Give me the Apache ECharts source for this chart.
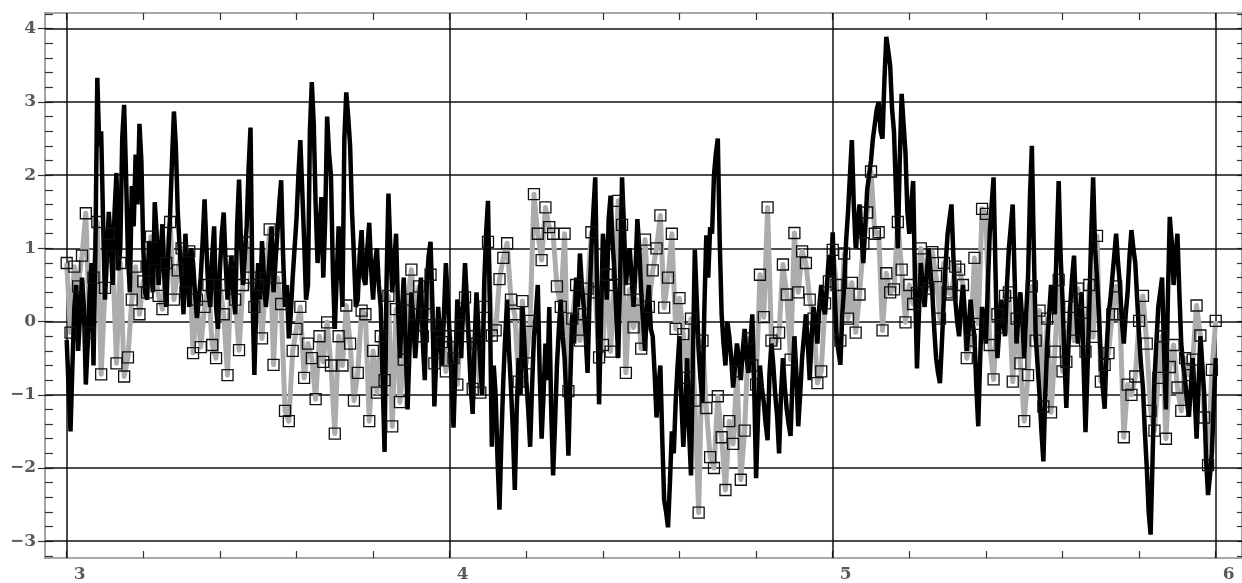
<!DOCTYPE html>
<html><head><meta charset="utf-8">
<script src="https://cdn.jsdelivr.net/npm/echarts@6/dist/echarts.min.js"></script>
<style>html,body{margin:0;padding:0;background:#fff}#c{width:1242px;height:583px}</style>
</head><body><div id="c"></div>
<script>
// ---- data ----
const X_START = 3.0;
const BLACK_STEP = 0.005;
const GRAY_STEP = 0.01;

const blackValues = [
 -0.25,-0.9,-1.5,-0.6,0.2,0.5,-0.4,0.1,0.6,0.2,-0.86,-0.3,0.4,0.8,-0.6,1.0,3.33,2.4,2.6,1.4,
 0.3,0.9,1.5,1.1,0.5,1.5,2.03,0.7,1.0,2.5,2.96,2.0,0.9,0.4,1.85,1.3,2.28,1.6,2.7,2.2,
 1.0,0.4,0.3,1.1,0.8,0.4,1.63,1.2,0.5,0.9,1.33,0.6,0.2,0.9,1.45,2.2,2.87,2.4,1.5,1.0,
 0.6,0.1,1.2,0.7,0.2,1.0,0.8,0.4,0.05,0.3,0.6,1.1,1.67,1.0,0.4,0.2,0.9,1.3,0.2,-0.1,
 0.7,1.2,1.49,0.8,0.3,0.6,0.9,0.4,0.1,1.3,1.94,1.1,0.5,0.9,1.3,2.1,2.65,0.4,-0.73,0.2,
 0.8,0.3,1.1,0.6,0.2,0.5,0.9,1.3,0.4,0.8,1.2,1.6,1.93,0.9,0.2,0.5,-0.23,0.1,0.6,1.0,
 1.4,2.0,2.48,1.8,1.1,0.3,0.5,2.6,3.27,2.7,1.6,0.8,1.2,1.7,0.6,1.4,2.8,2.3,2.0,0.7,
 -0.1,0.6,1.3,0.8,0.2,2.5,3.13,2.8,2.4,1.5,0.9,0.2,0.3,0.9,1.25,0.6,0.5,1.0,1.35,0.7,
 0.3,0.8,1.0,0.5,0.2,-0.8,-1.78,0.5,1.75,1.0,0.4,0.8,1.2,0.2,-0.5,0.1,0.6,-0.3,-1.2,-0.4,
 0.4,0.0,-0.5,-0.1,0.3,0.6,-0.3,-0.8,0.5,0.9,1.09,0.2,-1.16,-0.5,0.2,-0.2,-0.6,0.1,0.8,0.3,
 -0.2,-0.8,-1.45,-0.6,0.3,0.1,-0.5,0.2,0.8,0.3,-0.3,-0.9,-1.26,-0.3,0.4,-0.1,-0.6,-1.0,0.5,1.2,
 1.65,0.2,-1.71,-0.6,-1.0,-1.9,-2.57,-1.6,-0.8,-0.2,0.3,-0.4,-0.9,-1.5,-2.3,-1.2,-0.5,-1.0,0.2,-0.3,
 -0.8,-1.2,-1.71,-0.9,-0.2,0.1,0.5,-0.7,-1.6,-1.0,-0.3,-0.8,0.2,-1.2,-2.1,-1.4,-0.6,-0.1,0.3,-0.2,
 -0.5,-1.1,-1.83,-0.8,0.1,-0.3,0.6,0.2,0.93,0.5,0.2,-0.2,-0.7,0.3,1.0,1.5,1.97,0.4,-1.13,0.0,
 1.2,0.9,0.3,1.4,1.72,1.1,0.7,0.1,-0.5,0.6,1.97,1.3,0.5,0.8,1.0,0.6,0.2,0.7,1.4,1.0,
 0.4,0.0,-0.4,0.2,0.5,-0.1,-0.2,-0.7,-1.31,-0.9,-0.6,-1.6,-2.44,-2.6,-2.81,-2.2,-1.5,-1.8,-1.1,-0.6,
 -0.2,-1.1,-1.71,-1.2,-0.5,-1.5,-2.1,-0.5,0.98,0.3,-0.4,-0.8,-1.1,0.2,1.18,0.6,1.29,1.2,2.0,2.3,
 2.5,1.1,0.1,-0.3,-0.6,0.0,-0.2,-0.5,-0.9,-0.6,-0.3,-0.5,-0.8,-0.4,-0.1,-0.5,-0.7,-0.3,0.1,-0.9,
 -2.14,-1.3,-0.6,-0.9,-1.1,-1.4,-1.62,-0.7,-0.3,-0.6,-1.0,-1.3,-1.8,-1.0,-0.5,-0.9,-1.2,-1.4,-1.56,-0.8,
 -0.2,-0.7,-1.43,-1.0,-0.5,-0.2,0.1,-0.3,-0.8,-0.2,0.2,0.0,-0.3,0.2,0.5,0.2,0.1,0.5,0.9,0.6,
 1.22,0.4,-0.2,-0.4,-0.59,0.1,0.5,1.1,1.5,2.0,2.48,1.6,1.0,1.3,1.6,1.2,0.8,1.3,1.8,2.0,
 2.2,2.5,2.7,2.9,3.0,2.6,2.5,3.3,3.89,3.7,3.5,2.9,2.6,1.8,1.0,2.2,3.11,2.7,2.3,1.5,
 1.2,1.6,1.92,0.5,-0.64,0.1,0.8,0.5,0.2,0.6,1.0,0.7,0.4,-0.1,-0.5,-0.7,-0.84,-0.3,0.3,0.8,
 1.2,1.4,1.6,0.9,0.3,0.0,-0.2,0.2,0.5,0.1,-0.4,-0.1,0.3,0.0,-0.2,-0.9,-1.43,-0.5,0.2,0.0,
 -0.3,0.5,1.2,1.6,1.97,0.7,-0.5,-0.1,0.3,0.0,-0.2,0.5,1.0,1.3,1.6,0.6,-0.3,0.1,0.4,0.0,
 -0.5,0.1,0.6,1.7,2.4,1.0,-0.2,-0.6,-1.0,-1.5,-1.91,-1.0,-0.3,0.1,0.5,0.2,0.1,1.1,1.92,0.9,
 0.3,-0.5,-1.18,-0.4,0.2,0.6,0.9,0.2,-0.3,0.1,0.4,-0.6,-1.51,-0.7,0.2,1.2,1.97,1.0,0.6,0.1,
 -0.5,-0.9,-1.19,-0.4,0.1,0.3,0.6,0.9,1.2,0.8,0.5,0.0,-0.3,0.1,0.4,0.9,1.25,1.0,0.8,0.3,
 -0.2,-0.6,-0.9,-1.5,-2.0,-2.6,-2.91,-1.9,-0.8,-0.3,0.2,0.4,0.6,-0.4,-1.2,0.3,1.43,1.1,0.5,0.9,
 1.2,0.4,-0.3,-0.6,-0.8,-1.1,-1.3,-0.9,-0.5,-1.0,-1.6,-0.9,-0.2,-0.6,-1.0,-1.9,-2.37,-2.1,-1.8,-1.1,
 -0.5
];

const grayValues = [
 0.8,-0.15,0.75,0.48,0.9,1.48,-0.15,0.6,1.36,-0.72,
 0.46,1.2,0.89,-0.57,0.8,-0.75,-0.49,0.3,0.75,0.1,
 0.55,0.4,1.16,0.7,0.35,0.17,0.8,1.36,0.3,0.7,
 1.0,0.4,0.96,-0.43,0.3,-0.35,0.2,0.5,-0.32,-0.5,
 0.5,0.1,-0.73,0.82,0.3,-0.39,0.5,1.08,0.6,0.2,
 0.5,-0.23,0.6,1.26,-0.59,0.6,0.24,-1.22,-1.36,-0.4,
 -0.1,0.2,-0.77,-0.3,-0.5,-1.06,-0.2,-0.55,-0.01,-0.6,
 -1.53,-0.2,-0.6,0.22,-0.3,-1.08,-0.7,0.15,0.1,-1.36,
 -0.4,-0.97,-0.2,-0.8,0.35,-1.43,0.17,-1.1,-0.52,0.3,
 0.71,0.1,0.48,-0.2,0.1,0.64,-0.57,-0.05,-0.28,-0.68,
 -0.2,-0.5,-0.86,-0.05,0.33,-0.2,-0.92,-0.3,-0.97,0.2,
 1.09,-0.19,-0.12,0.58,0.87,1.07,0.3,0.1,-0.82,0.28,
 -0.57,0.01,1.74,1.2,0.84,1.56,1.29,1.2,0.48,0.2,
 1.2,-0.95,0.04,0.5,-0.26,0.1,0.45,1.22,0.4,-0.49,
 -0.32,0.64,-0.41,0.5,1.65,1.32,-0.7,0.44,-0.08,0.3,
 -0.37,1.12,0.2,0.7,1.0,1.45,0.19,0.6,1.2,-0.1,
 0.32,-0.17,-0.77,0.04,-1.08,-2.61,-0.26,-1.18,-1.85,-2.0,
 -1.02,-1.58,-2.3,-1.36,-1.67,-0.68,-2.16,-1.49,-0.23,-0.6,
 -0.86,0.64,0.06,1.56,-0.26,-0.3,-0.15,0.78,0.37,-0.52,
 1.21,0.4,0.96,0.8,0.3,0.04,-0.84,-0.68,0.25,0.55,
 0.98,0.5,-0.26,0.93,0.04,0.53,-0.15,0.37,1.07,1.49,
 2.05,1.2,1.22,-0.12,0.66,0.4,0.44,1.36,0.71,-0.01,
 0.5,0.24,0.39,1.0,0.55,0.45,0.95,0.62,0.04,0.8,
 0.4,0.37,0.75,0.71,0.5,-0.5,-0.26,0.87,-0.03,1.54,
 1.47,-0.32,-0.79,0.1,-0.08,0.35,0.4,-0.82,0.04,-0.57,
 -1.36,-0.73,0.48,-0.26,0.15,-1.16,0.04,-1.24,-0.41,0.57,
 -0.68,-0.55,0.2,-0.26,0.45,0.12,-0.41,0.5,-0.21,1.17,
 -0.82,-0.59,-0.43,0.1,0.48,0.1,-1.58,-0.86,-1.0,-0.75,
 0.01,0.35,-0.3,-1.22,-1.49,-0.77,-0.2,-1.6,-0.62,-0.32,
 -0.9,-1.22,-0.5,-0.73,-0.52,0.22,-0.19,-1.31,-1.96,-0.66,
 0.01
];

const xTickLabels = [3, 4, 5, 6];
const yTickLabels = [-3, -2, -1, 0, 1, 2, 3, 4];
const xMinorTicks = [3, 3.2, 3.4, 3.6, 3.8, 4, 4.2, 4.4, 4.6, 4.8, 5, 5.2, 5.4, 5.6, 5.8, 6];
const yMinorTicks = [-3.2,-3,-2.8,-2.6,-2.4,-2.2,-2,-1.8,-1.6,-1.4,-1.2,-1,-0.8,-0.6,-0.4,-0.2,0,
  0.2,0.4,0.6,0.8,1,1.2,1.4,1.6,1.8,2,2.2,2.4,2.6,2.8,3,3.2,3.4,3.6,3.8,4,4.2];

// ---- chart ----
const X_MIN = 2.9434, X_MAX = 6.0686, Y_MIN = -3.229, Y_MAX = 4.215;
const blackData = blackValues.map((v, i) => [+(X_START + i * BLACK_STEP).toFixed(5), v]);
const grayData = grayValues.map((v, i) => [+(X_START + i * GRAY_STEP).toFixed(5), v]);

const frameLine = { show: true, onZero: false, lineStyle: { color: '#8c8c8c', width: 1.6 } };
const tickStyle = { color: '#333', width: 1.2 };
const labelFont = { color: '#5a5a5a', fontFamily: 'DejaVu Serif', fontWeight: 'bold', fontSize: 17 };
const fmt = v => (v < 0 ? '\u2212' + Math.abs(v) : String(v));

const chart = echarts.init(document.getElementById('c'), null, { renderer: 'canvas' });
chart.setOption({
  animation: false,
  backgroundColor: '#ffffff',
  grid: { left: 45, top: 13, width: 1198, height: 553, containLabel: false },
  xAxis: [
    { type: 'value', min: X_MIN, max: X_MAX, position: 'bottom',
      axisLine: frameLine,
      axisTick: { show: true, inside: true, length: 7, customValues: xMinorTicks, lineStyle: tickStyle },
      axisLabel: Object.assign({ customValues: xTickLabels, formatter: fmt, margin: 8, padding: [0, 0, 0, 26] }, labelFont),
      splitLine: { show: false } },
    { type: 'value', min: X_MIN, max: X_MAX, position: 'top',
      axisLine: frameLine,
      axisTick: { show: true, inside: true, length: 7, customValues: xMinorTicks, lineStyle: tickStyle },
      axisLabel: { show: false }, splitLine: { show: false } }
  ],
  yAxis: [
    { type: 'value', min: Y_MIN, max: Y_MAX, position: 'left', offset: 0,
      axisLine: frameLine,
      axisTick: { show: true, inside: false, length: 7, customValues: yTickLabels, lineStyle: tickStyle },
      axisLabel: Object.assign({ customValues: yTickLabels, formatter: fmt, margin: 9 }, labelFont),
      splitLine: { show: false } },
    { type: 'value', min: Y_MIN, max: Y_MAX, position: 'right', offset: 0,
      axisLine: frameLine,
      axisTick: { show: true, inside: true, length: 5, customValues: yMinorTicks, lineStyle: tickStyle },
      axisLabel: { show: false }, splitLine: { show: false } },
    { type: 'value', min: Y_MIN, max: Y_MAX, position: 'left', offset: 0,
      axisLine: { show: false },
      axisTick: { show: true, inside: true, length: 8, customValues: yMinorTicks, lineStyle: tickStyle },
      axisLabel: { show: false }, splitLine: { show: false } }
  ],
  series: [
    { type: 'line', name: 'grid', data: [], z: 1, silent: true,
      markLine: { silent: true, symbol: ['none', 'none'], z: 1, animation: false,
        label: { show: false },
        lineStyle: { color: '#111', width: 1.5, type: 'solid' },
        emphasis: { disabled: true },
        data: xTickLabels.map(v => ({ xAxis: v })).concat(yTickLabels.map(v => ({ yAxis: v }))) } },
    { type: 'line', name: 'gray line', data: grayData, z: 2, showSymbol: false, symbol: 'none',
      lineStyle: { color: '#acacac', width: 5, join: 'round' }, silent: true },
    { type: 'line', name: 'black', data: blackData, z: 3, showSymbol: false, symbol: 'none',
      lineStyle: { color: '#000', width: 4.5, join: 'bevel' }, silent: true },
    { type: 'scatter', name: 'gray markers', data: grayData, z: 4, symbol: 'rect', symbolSize: 11,
      itemStyle: { color: 'rgba(255,255,255,0)', borderColor: '#111', borderWidth: 1.3, opacity: 1 }, silent: true }
  ]
});
</script>
</body></html>
